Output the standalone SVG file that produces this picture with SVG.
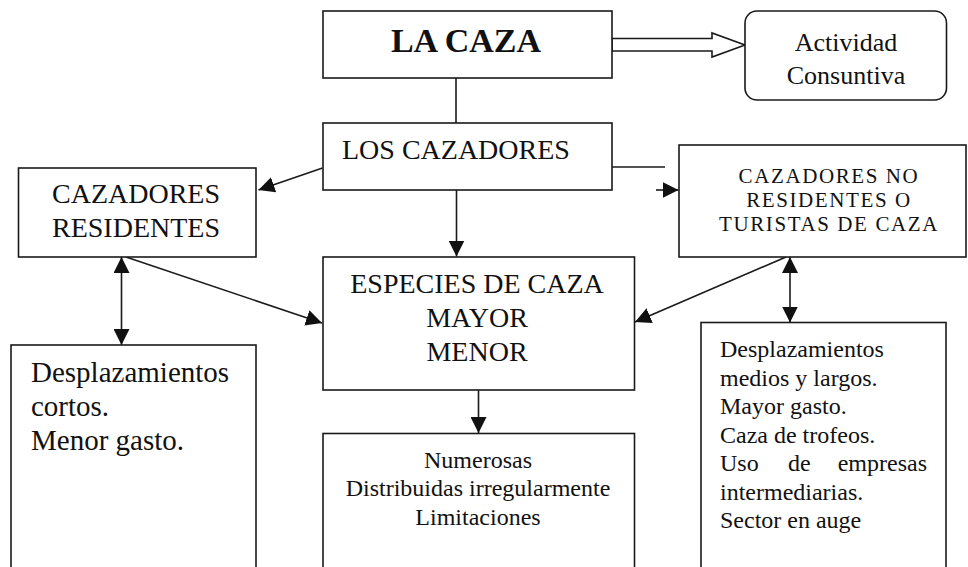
<svg xmlns="http://www.w3.org/2000/svg" width="968" height="567" viewBox="0 0 968 567">
<defs>
<style>
.box{fill:#fff;stroke:#1a1a1a;stroke-width:1.6}
.ln{fill:none;stroke:#1a1a1a;stroke-width:1.6}
.t{font-family:"Liberation Serif","Times New Roman",serif;fill:#111}
.c{text-anchor:middle}
</style>
<marker id="ah" viewBox="0 0 16 16" refX="16" refY="8" markerWidth="16" markerHeight="16" markerUnits="userSpaceOnUse" orient="auto-start-reverse">
<path d="M0,0 L16,8 L0,16 z" fill="#111"/>
</marker>
</defs>
<rect width="968" height="567" fill="#fff"/>

<g id="connectors">
<line class="ln" x1="456" y1="78" x2="456" y2="123"/>
<polygon points="612,38.5 712,38.5 712,33 745,45 712,57 712,51 612,51" fill="#fff" stroke="#1a1a1a" stroke-width="1.6"/>
<line class="ln" x1="322.5" y1="168" x2="258.5" y2="190" marker-end="url(#ah)"/>
<line class="ln" x1="612" y1="167" x2="665" y2="167"/>
<line class="ln" x1="656" y1="190" x2="678.5" y2="190" marker-end="url(#ah)"/>
<line class="ln" x1="456.5" y1="190" x2="456.5" y2="256.5" marker-end="url(#ah)"/>
<line class="ln" x1="121.5" y1="257" x2="121.5" y2="345" marker-start="url(#ah)" marker-end="url(#ah)"/>
<line class="ln" x1="126" y1="257" x2="322" y2="323" marker-end="url(#ah)"/>
<line class="ln" x1="786" y1="257" x2="635" y2="322" marker-end="url(#ah)"/>
<line class="ln" x1="790" y1="257" x2="790" y2="322.5" marker-start="url(#ah)" marker-end="url(#ah)"/>
<line class="ln" x1="478.5" y1="390" x2="478.5" y2="433" marker-end="url(#ah)"/>
</g>

<g id="la-caza">
<rect class="box" x="323" y="11" width="289" height="67"/>
<text class="t c" x="466" y="52" font-size="34" font-weight="bold">LA CAZA</text>
</g>

<g id="actividad">
<rect class="box" x="745" y="11" width="201.5" height="89" rx="12"/>
<text class="t c" x="846" y="51" font-size="26">Actividad</text>
<text class="t c" x="846" y="84" font-size="26">Consuntiva</text>
</g>

<g id="los-cazadores">
<rect class="box" x="323" y="123" width="289" height="67"/>
<text class="t" x="342" y="159" font-size="28">LOS CAZADORES</text>
</g>

<g id="residentes">
<rect class="box" x="18.5" y="168" width="237.5" height="89"/>
<text class="t c" x="136" y="203" font-size="28">CAZADORES</text>
<text class="t c" x="136" y="237" font-size="28">RESIDENTES</text>
</g>

<g id="no-residentes">
<rect class="box" x="679" y="145" width="287" height="112"/>
<text class="t c" x="829" y="183" font-size="21" letter-spacing="1.6">CAZADORES NO</text>
<text class="t c" x="829" y="207" font-size="21" letter-spacing="1.6">RESIDENTES O</text>
<text class="t c" x="829" y="231" font-size="21" letter-spacing="1.6">TURISTAS DE CAZA</text>
</g>

<g id="especies">
<rect class="box" x="323" y="257" width="311.5" height="133"/>
<text class="t c" x="477" y="293" font-size="28">ESPECIES DE CAZA</text>
<text class="t c" x="477" y="327" font-size="28">MAYOR</text>
<text class="t c" x="477" y="361" font-size="28">MENOR</text>
</g>

<g id="numerosas">
<rect class="box" x="323" y="433.5" width="311.5" height="150"/>
<text class="t c" x="478" y="468" font-size="24">Numerosas</text>
<text class="t c" x="478" y="496" font-size="24">Distribuidas irregularmente</text>
<text class="t c" x="478" y="525" font-size="24">Limitaciones</text>
</g>

<g id="desplazamientos-cortos">
<rect class="box" x="11" y="345" width="245" height="240"/>
<text class="t" x="31" y="382" font-size="29">Desplazamientos</text>
<text class="t" x="31" y="416" font-size="29">cortos.</text>
<text class="t" x="31" y="450" font-size="29">Menor gasto.</text>
</g>

<g id="desplazamientos-largos">
<rect class="box" x="701" y="322.5" width="245" height="262"/>
<text class="t" x="720" y="357" font-size="24">Desplazamientos</text>
<text class="t" x="720" y="385.5" font-size="24">medios y largos.</text>
<text class="t" x="720" y="414" font-size="24">Mayor gasto.</text>
<text class="t" x="720" y="442.5" font-size="24">Caza de trofeos.</text>
<text class="t" x="720" y="471" font-size="24">Uso</text>
<text class="t" x="788" y="471" font-size="24">de</text>
<text class="t" x="927" y="471" font-size="24" text-anchor="end">empresas</text>
<text class="t" x="720" y="499.5" font-size="24">intermediarias.</text>
<text class="t" x="720" y="528" font-size="24">Sector en auge</text>
</g>
</svg>
